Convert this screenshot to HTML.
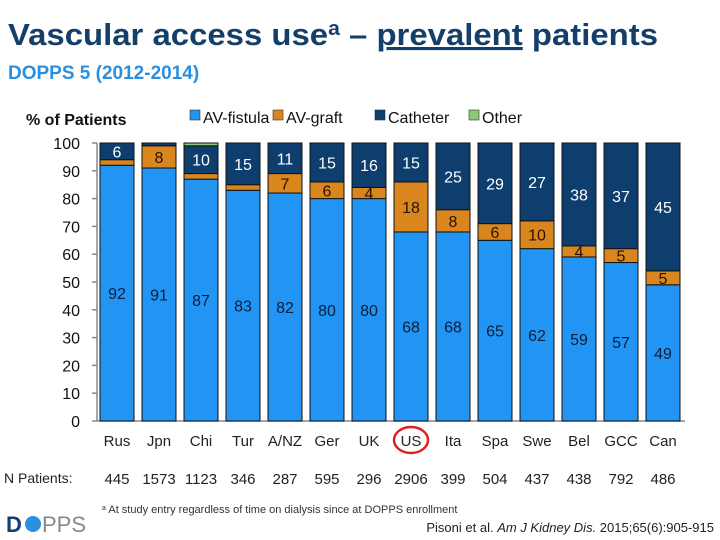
<!DOCTYPE html>
<html><head><meta charset="utf-8"><style>
body{margin:0;background:#fff;}
svg{display:block;font-family:"Liberation Sans",Arial,sans-serif;}
</style></head><body>
<svg width="720" height="540" viewBox="0 0 720 540">
<text x="8" y="45" font-size="31" font-weight="bold" fill="#143F6A" textLength="650" lengthAdjust="spacingAndGlyphs">Vascular access use<tspan font-size="20" dy="-10">a</tspan><tspan dy="10"> – </tspan><tspan text-decoration="underline">prevalent</tspan> patients</text>
<text x="8" y="79" font-size="19" font-weight="bold" fill="#2B8FE0">DOPPS 5 (2012-2014)</text>
<text x="26" y="125" font-size="16" font-weight="bold" fill="#111">% of Patients</text>
<g id="legend"></g>
<g id="axes"></g>
<g id="bars"></g>
<text x="4" y="483" font-size="14" fill="#222">N Patients:</text>
<text x="102" y="513" font-size="11" fill="#333"><tspan font-size="7" dy="-3">a</tspan><tspan dy="3"> At study entry regardless of time on dialysis since at DOPPS enrollment</tspan></text>
<text x="714" y="532" font-size="13" fill="#222" text-anchor="end">Pisoni et al. <tspan font-style="italic">Am J Kidney Dis.</tspan> 2015;65(6):905-915</text>
<g>
<text x="6" y="532" font-size="22" font-weight="bold" fill="#12406E">D</text>
<circle cx="33" cy="524" r="8" fill="#2B8FE0"/>
<text x="42" y="532" font-size="22" fill="#888">PPS</text>
</g>
</svg>
<script>
const categories=["Rus","Jpn","Chi","Tur","A/NZ","Ger","UK","US","Ita","Spa","Swe","Bel","GCC","Can"];
const nPatients=["445","1573","1123","346","287","595","296","2906","399","504","437","438","792","486"];
const fistula=[92,91,87,83,82,80,80,68,68,65,62,59,57,49];
const graft=[2,8,2,2,7,6,4,18,8,6,10,4,5,5];
const catheter=[6,1,10,15,11,15,16,15,25,29,28,38,38,46];
const other=[0,0,1,0,0,0,0,0,0,0,0,0,0,0];
const catheterLabels=[6,1,10,15,11,15,16,15,25,29,27,38,37,45];
const yTicks=[0,10,20,30,40,50,60,70,80,90,100];
const seriesNames=["AV-fistula","AV-graft","Catheter","Other"];
const colors=["#2295F4","#D9861F","#0D3E6D","#8DC874"];
const textColors=["#0b1f3a","#2a1200","#ffffff","#000"];
const NS="http://www.w3.org/2000/svg";
const x0=97,x1=685,y0=421,y100=143;
const y=v=>y0-(Math.min(v,100))*(y0-y100)/100;
const pitch=42,bw=34;
const xc=i=>117+i*pitch;
function mk(t,a,p){const e=document.createElementNS(NS,t);for(const k in a)e.setAttribute(k,a[k]);(p||document.querySelector('svg')).appendChild(e);return e;}
const axes=document.getElementById('axes'),bars=document.getElementById('bars'),lg=document.getElementById('legend');
let lx=[190,273,375,469];
seriesNames.forEach((s,i)=>{
 const r=mk('rect',{x:lx[i],y:110,width:10,height:10,fill:colors[i],stroke:"#333","stroke-width":0.6},lg);
 
 
 const t=mk('text',{x:lx[i]+13,y:123,"font-size":16,fill:"#111"},lg);t.textContent=s;
 
 
});
const ax=mk('line',{x1:x0,y1:y0,x2:x0,y2:y100,stroke:"#888","stroke-width":1.5},axes);


mk('line',{x1:x0,y1:y0,x2:x1,y2:y0,stroke:"#888","stroke-width":1.5},axes);
yTicks.forEach(v=>{
 mk('line',{x1:x0-5,y1:y(v),x2:x0,y2:y(v),stroke:"#888","stroke-width":1.5},axes);
 const t=mk('text',{x:80,y:y(v)+6,"font-size":16,fill:"#111","text-anchor":"end"},axes);t.textContent=v;
 
 
});
const series=[fistula,graft,catheter,other];
categories.forEach((c,i)=>{
 let base=0;
 series.forEach((s,k)=>{
  const v=s[i];if(v<=0)return;
  const top=base+v;
  const ry=y(top),rh=y(base)-y(top);
  if(rh>0){
   const r=mk('rect',{x:xc(i)-bw/2,y:ry,width:bw,height:rh,fill:colors[k],stroke:"#111","stroke-width":1},bars);
   
   
  }
  const lab=k===2?catheterLabels[i]:v;
  if(v>=4){
   const t=mk('text',{x:xc(i),y:(y(base)+y(top))/2+6,"font-size":16,fill:textColors[k],"text-anchor":"middle"},bars);
   t.textContent=lab;
   
   
  }
  base=top;
 });
 const t=mk('text',{x:xc(i),y:446,"font-size":15,fill:"#222","text-anchor":"middle"},axes);t.textContent=c;
 
 
 const n=mk('text',{x:xc(i),y:484,"font-size":15,fill:"#222","text-anchor":"middle"},axes);n.textContent=nPatients[i];
 
 
});
const ci=categories.indexOf("US");
const el=mk('ellipse',{cx:xc(ci),cy:440,rx:17,ry:13,fill:"none",stroke:"#E02020","stroke-width":2.5},axes);


</script>
</body></html>
